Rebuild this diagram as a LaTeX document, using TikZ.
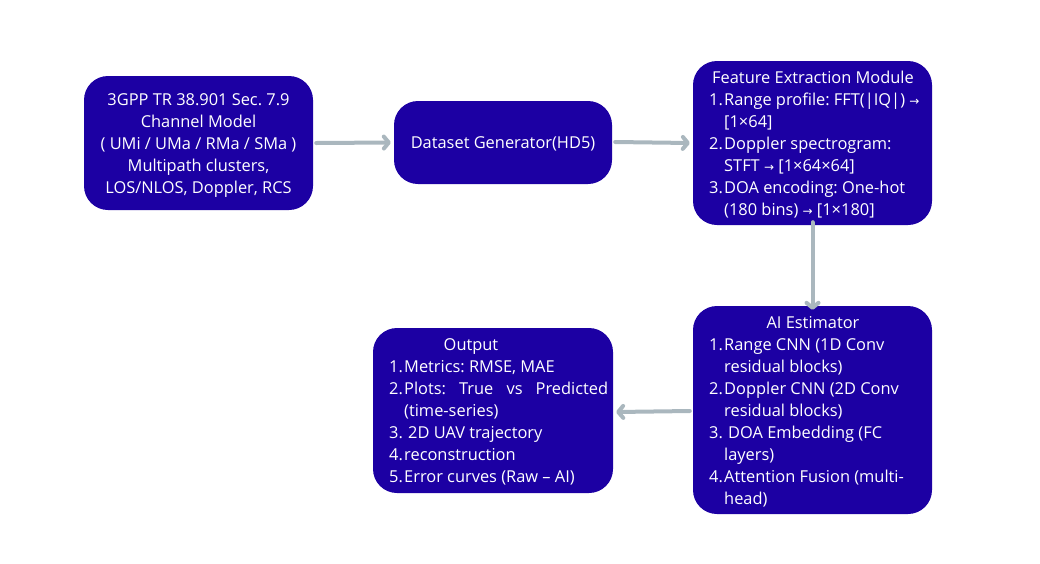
\documentclass[tikz,border=0pt]{standalone}
\usepackage{fontspec}
\setmainfont{Open Sans}
\newfontfamily\arrowfont{DejaVu Sans}
\usetikzlibrary{arrows.meta}
\definecolor{boxblue}{RGB}{28,0,163}
\definecolor{arrowgray}{RGB}{170,183,190}
\newcommand{\rar}{{\arrowfont\fontsize{12}{12}\selectfont →}}
\newcommand{\inum}[1]{\makebox[15pt][l]{#1}}
\newcommand{\icont}{\hspace*{15pt}}
\frenchspacing
\tikzset{
  box/.style={draw=none, fill=boxblue, rounded corners=24pt, inner sep=0pt},
  txt/.style={text=white, font=\fontsize{16.4}{22}\selectfont\frenchspacing, inner sep=0pt},
  conn/.style={draw=arrowgray, line width=4pt, line cap=round,
    -{Straight Barb[length=5pt,width=12pt,round]}}
}
\begin{document}
\begin{tikzpicture}[x=1pt,y=-1pt]
\useasboundingbox (0,0) rectangle (1040,563);
% boxes
\node[box, minimum width=229pt, minimum height=134pt] (src) at (198.5,143) {};
\node[box, minimum width=218pt, minimum height=83pt] (gen) at (503,142.5) {};
\node[box, minimum width=239pt, minimum height=164pt] (feat) at (812.5,143) {};
\node[box, minimum width=239pt, minimum height=208pt] (ai) at (812.5,410) {};
\node[box, minimum width=240pt, minimum height=165pt] (out) at (493,410.5) {};
% texts
\node[txt, anchor=base] (srct) at (198.5,105) {\parbox[t]{225pt}{\centering
3GPP TR 38.901 Sec. 7.9\\
Channel Model\\
( UMi / UMa / RMa / SMa )\\
Multipath clusters,\\
LOS/NLOS, Doppler, RCS}};
\node[txt, anchor=base] (gent) at (503,148) {Dataset Generator(HD5)};
\node[txt, anchor=base] (feath) at (813,83) {Feature Extraction Module};
\node[txt, anchor=base west] (featl) at (709,105) {\parbox[t]{220pt}{\raggedright
\inum{1.}Range profile: FFT(|IQ|) \rar\\
\icont[1×64]\\
\inum{2.}Doppler spectrogram:\\
\icont STFT \rar{} [1×64×64]\\
\inum{3.}DOA encoding: One-hot\\
\icont(180 bins) \rar{} [1×180]}};
\node[txt, anchor=base] (aih) at (813,328) {AI Estimator};
\node[txt, anchor=base west] (ail) at (709,350) {\parbox[t]{220pt}{\raggedright
\inum{1.}Range CNN (1D Conv\\
\icont residual blocks)\\
\inum{2.}Doppler CNN (2D Conv\\
\icont residual blocks)\\
\inum{3.}\hspace*{4pt}DOA Embedding (FC\\
\icont layers)\\
\inum{4.}Attention Fusion (multi-\\
\icont head)}};
\node[txt, anchor=base] (outh) at (471,350) {Output};
\node[txt, anchor=base west] (outl) at (389,372) {\parbox[t]{225pt}{\raggedright
\inum{1.}Metrics: RMSE, MAE\\
\inum{2.}\makebox[204pt][s]{Plots: True vs Predicted}\\
\icont(time-series)\\
\inum{3.}\hspace*{4pt}2D UAV trajectory\\
\inum{4.}reconstruction\\
\inum{5.}Error curves (Raw – AI)}};
% connectors
\draw[conn] ([xshift=3pt]src.east) -- ([xshift=-3pt]gen.west);
\draw[conn] ([xshift=3pt,yshift=0.5pt]gen.east) -- ([xshift=-3pt]feat.west);
\draw[conn] ([yshift=3pt]feat.south) -- ([yshift=-4pt]ai.north);
\draw[conn] ([xshift=-3pt,yshift=-1pt]ai.west) -- ([xshift=3pt,yshift=-1.5pt]out.east);
\end{tikzpicture}
\end{document}
